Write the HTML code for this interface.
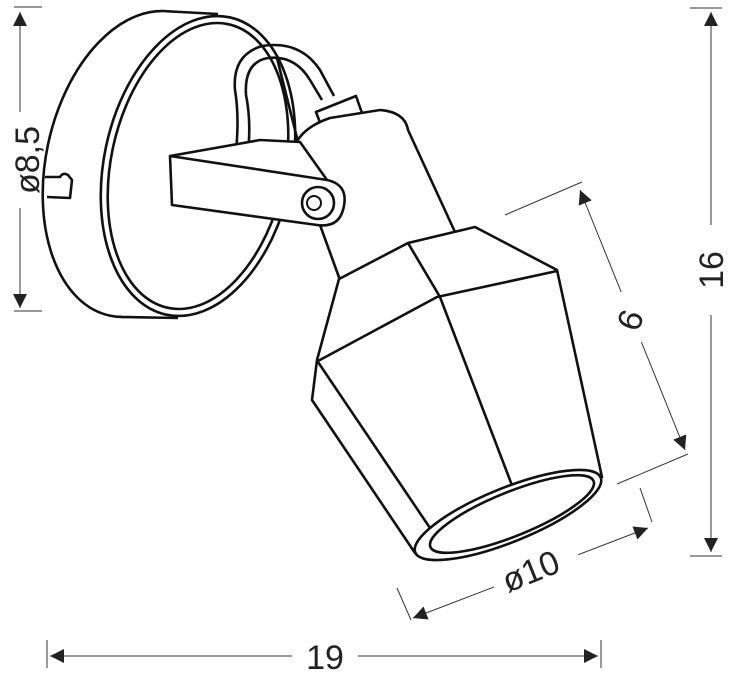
<!DOCTYPE html><html><head><style>body{margin:0;background:#fff}svg{display:block}</style></head><body>
<svg width="732" height="678" viewBox="0 0 732 678" xmlns="http://www.w3.org/2000/svg" font-family="Liberation Sans, sans-serif">
<defs><marker id="a" viewBox="0 0 10 10" refX="10" refY="5" markerWidth="14" markerHeight="14" markerUnits="userSpaceOnUse" orient="auto-start-reverse"><path d="M0,0L10,5L0,10z" fill="#222"/></marker></defs>
<g stroke="#333" stroke-width="1" fill="none">
<line x1="20" y1="12" x2="20" y2="308" marker-start="url(#a)" marker-end="url(#a)"/>
<line x1="14" y1="7" x2="42" y2="7"/><line x1="14" y1="311" x2="42" y2="311"/>
<line x1="711" y1="12" x2="711" y2="552" marker-start="url(#a)" marker-end="url(#a)"/>
<line x1="690" y1="8" x2="722" y2="8"/><line x1="690" y1="556" x2="722" y2="556"/>
<line x1="50" y1="656" x2="598" y2="656" marker-start="url(#a)" marker-end="url(#a)"/>
<line x1="47" y1="640" x2="47" y2="668"/><line x1="601" y1="640" x2="601" y2="668"/>
<line x1="580" y1="190" x2="685" y2="450" marker-start="url(#a)" marker-end="url(#a)"/>
<line x1="505" y1="215" x2="582" y2="182"/><line x1="617" y1="484" x2="688" y2="454"/>
<line x1="413" y1="618" x2="648" y2="528" marker-start="url(#a)" marker-end="url(#a)"/>
<line x1="397" y1="588" x2="411" y2="620"/><line x1="640" y1="488" x2="652" y2="522"/>
</g>
<g fill="#fff"><rect x="4" y="112" width="34" height="96"/><rect x="693" y="225" width="34" height="90"/><rect x="292" y="636" width="66" height="34"/><rect x="608" y="292" width="44" height="50"/><rect x="490" y="546" width="90" height="44" transform="rotate(-22 535 568)"/></g>
<g fill="#222" font-size="34">
<text transform="translate(39,160) rotate(-90)" text-anchor="middle">ø8,5</text>
<text transform="translate(723,270) rotate(-90)" text-anchor="middle">16</text>
<text x="325" y="669" text-anchor="middle">19</text>
<text transform="translate(630,320) rotate(-70)" text-anchor="middle" dy="12">6</text>
<text transform="translate(535,582) rotate(-22)" text-anchor="middle">ø10</text>
</g>
<g stroke="#111" stroke-width="2.6" fill="#fff" stroke-linejoin="round">
<ellipse cx="142" cy="164" rx="96" ry="155" transform="rotate(12 142 164)"/>
<path d="M162,11 L218,14 L178,318 L122,317z" stroke="none"/>
<path d="M162,11 L218,14 M122,317 L178,318" fill="none"/>
<ellipse cx="198" cy="166" rx="94" ry="152" transform="rotate(12 198 166)"/>
<ellipse cx="198" cy="166" rx="87" ry="145" transform="rotate(12 198 166)" fill="none"/>
<path d="M45,177 L60,177 Q63,172 68,175 L72,180 L70,198 L47,197" fill="#fff"/>
<path d="M277,58 L298,142" fill="none"/>
<path d="M235,160 Q240,120 235,90 Q232,55 262,46 Q300,40 320,70 L334,96 M247,160 Q252,125 246,95 Q244,62 268,58 Q295,55 310,80 L322,100" fill="none"/>
<path d="M316,112 L356,96 L362,113 L322,128z"/>
<path d="M293,150 Q300,128 330,118 L380,110 Q405,112 408,130 L455,232 L340,280 L320,225z"/>
<path d="M339,279 L408,243 L475,227 L557,270 L602,477 L415,553 L312,400 L317,360z"/>
<path d="M318,361 L437,297 L557,271 M408,243 L440,297 L513,488 M318,362 L430,528" fill="none"/>
<ellipse cx="508" cy="515" rx="100" ry="27" transform="rotate(-22 508 515)"/>
<ellipse cx="512" cy="514" rx="88" ry="22" transform="rotate(-22 512 514)" fill="none"/>
<path d="M170,156 L260,140 L300,142 L327,180 Q350,185 343,210 Q338,228 317,225 L172,205z"/>
<path d="M170,156 L327,180" fill="none"/>
<circle cx="318" cy="203" r="16"/><circle cx="314" cy="203" r="7" stroke-width="2"/>
</g>
</svg></body></html>
